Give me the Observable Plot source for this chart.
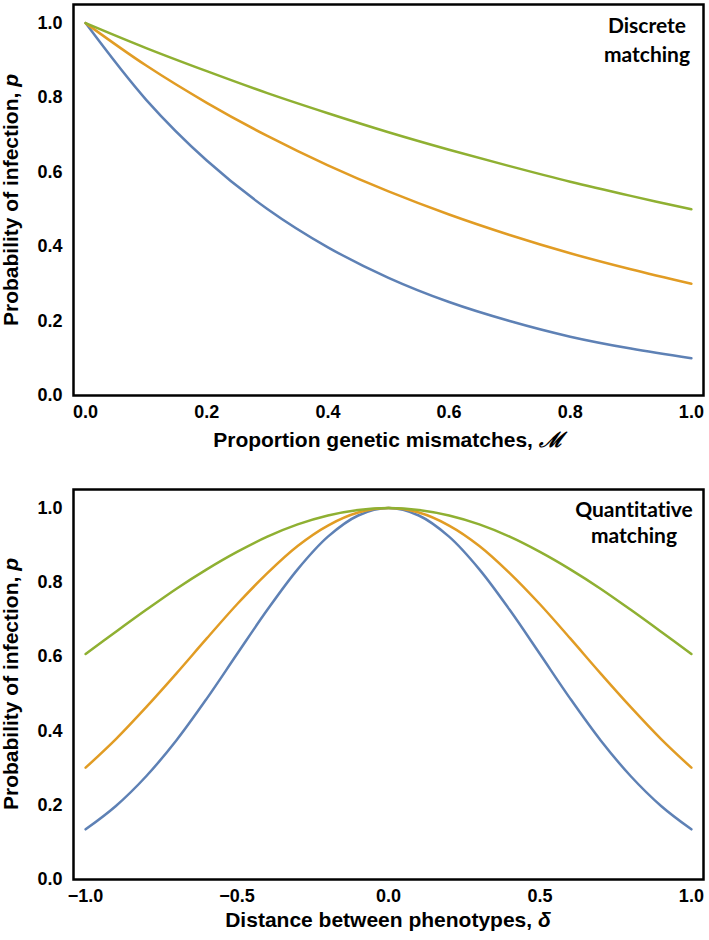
<!DOCTYPE html>
<html>
<head>
<meta charset="utf-8">
<script src="https://cdn.jsdelivr.net/npm/d3@7"></script>
<script src="https://cdn.jsdelivr.net/npm/@observablehq/plot@0.6"></script>
<style>
  html, body { margin: 0; padding: 0; background: #fff; }
  #chart { width: 709px; }
  svg { display: block; }
</style>
</head>
<body>
<div id="chart"></div>
<script>
// ---- Data ----
const seriesNames = ["strong", "medium", "weak"];
const seriesColors = ["#5E81B5", "#E19C24", "#8FB032"];

// Top panel: discrete matching
const mismatch = [0, 0.1, 0.2, 0.3, 0.4, 0.5, 0.6, 0.7, 0.8, 0.9, 1.0];
const discreteBlue   = [1, 0.794, 0.631, 0.501, 0.398, 0.316, 0.251, 0.200, 0.158, 0.126, 0.100];
const discreteOrange = [1, 0.886, 0.786, 0.697, 0.618, 0.548, 0.486, 0.431, 0.382, 0.339, 0.300];
const discreteGreen  = [1, 0.933, 0.871, 0.812, 0.758, 0.707, 0.660, 0.616, 0.574, 0.536, 0.500];

// Bottom panel: quantitative matching
const delta = [-1.0, -0.9, -0.8, -0.7, -0.6, -0.5, -0.4, -0.3, -0.2, -0.1, 0,
               0.1, 0.2, 0.3, 0.4, 0.5, 0.6, 0.7, 0.8, 0.9, 1.0];
const quantBlue   = [0.135,0.198,0.278,0.375,0.487,0.607,0.726,0.835,0.923,0.980,1,0.980,0.923,0.835,0.726,0.607,0.487,0.375,0.278,0.198,0.135];
const quantOrange = [0.301,0.378,0.464,0.555,0.649,0.741,0.825,0.898,0.953,0.988,1,0.988,0.953,0.898,0.825,0.741,0.649,0.555,0.464,0.378,0.301];
const quantGreen  = [0.607,0.667,0.726,0.783,0.835,0.882,0.923,0.956,0.980,0.995,1,0.995,0.980,0.956,0.923,0.882,0.835,0.783,0.726,0.667,0.607];

const yTicks = [0, 0.2, 0.4, 0.6, 0.8, 1.0];
const xTicksTop = [0, 0.2, 0.4, 0.6, 0.8, 1.0];
const xTicksBottom = [-1.0, -0.5, 0, 0.5, 1.0];

// ---- Build tidy tables ----
function tidy(xs, cols) {
  const rows = [];
  cols.forEach((vals, k) => xs.forEach((x, i) => rows.push({x, y: vals[i], s: seriesNames[k]})));
  return rows;
}
const topRows = tidy(mismatch, [discreteBlue, discreteOrange, discreteGreen]);
const botRows = tidy(delta, [quantBlue, quantOrange, quantGreen]);

const tickFont = {fontFamily: "'Liberation Sans', Arial, sans-serif", fontWeight: "bold", fontSize: "18px", color: "#000"};
const fmt = d3.format(".1f");

function panel({rows, xDomain, xTicks, height, marginTop, marginBottom}) {
  return Plot.plot({
    width: 709,
    height,
    marginLeft: 73,
    marginRight: 6,
    marginTop,
    marginBottom,
    style: {...tickFont, background: "#fff"},
    x: {domain: xDomain},
    y: {domain: [0, 1.05]},
    color: {domain: seriesNames, range: seriesColors},
    marks: [
      Plot.axisY({ticks: yTicks, tickFormat: fmt, tickSize: 0, tickPadding: 11, label: null, fontSize: 18}),
      Plot.axisX({ticks: xTicks, tickFormat: fmt, tickSize: 0, tickPadding: 10, label: null, fontSize: 18}),
      Plot.line(rows, {x: "x", y: "y", z: "s", stroke: "s", strokeWidth: 2.5, curve: "catmull-rom"}),
      Plot.frame({stroke: "#000", strokeWidth: 2.5})
    ]
  });
}

const topSvg = panel({rows: topRows, xDomain: [-0.02, 1.02], xTicks: xTicksTop, height: 470, marginTop: 4, marginBottom: 75});
const botSvg = panel({rows: botRows, xDomain: [-1.04, 1.04], xTicks: xTicksBottom, height: 470, marginTop: 19, marginBottom: 61});

const chart = document.getElementById("chart");
chart.appendChild(topSvg);
chart.appendChild(botSvg);

const labelFont = "'Liberation Sans', Arial, sans-serif";
function addLabels(svg, {xLabel, xSym, xLabelY, yCenter, inset, insetX, insetY}) {
  const s = d3.select(svg);
  const tx = s.append("text")
    .attr("x", 388).attr("y", xLabelY)
    .attr("text-anchor", "middle")
    .attr("font-family", labelFont).attr("font-weight", "bold").attr("font-size", 21)
    .attr("fill", "#000");
  tx.append("tspan").text(xLabel);
  tx.append("tspan").attr("font-style", "italic").text(xSym);
  const ty = s.append("text")
    .attr("transform", `translate(18,${yCenter}) rotate(-90)`)
    .attr("text-anchor", "middle")
    .attr("font-family", labelFont).attr("font-weight", "bold").attr("font-size", 21)
    .attr("fill", "#000");
  ty.append("tspan").text("Probability of infection, ");
  ty.append("tspan").attr("font-style", "italic").text("p");
  const ti = s.append("text")
    .attr("text-anchor", "middle")
    .attr("font-family", "Lato, 'Open Sans', sans-serif").attr("font-weight", "bold").attr("font-size", 21)
    .style("font-variant-ligatures", "none")
    .attr("fill", "#000");
  inset.forEach((line, i) => ti.append("tspan").attr("x", insetX).attr("y", insetY[i]).text(line));
}

addLabels(topSvg, {xLabel: "Proportion genetic mismatches, ", xSym: "ℳ", xLabelY: 447, yCenter: 200,
  inset: ["Discrete", "matching"], insetX: 647, insetY: [33, 62]});
addLabels(botSvg, {xLabel: "Distance between phenotypes, ", xSym: "δ", xLabelY: 457, yCenter: 214,
  inset: ["Quantitative", "matching"], insetX: 634, insetY: [47, 73]});
</script>
</body>
</html>
